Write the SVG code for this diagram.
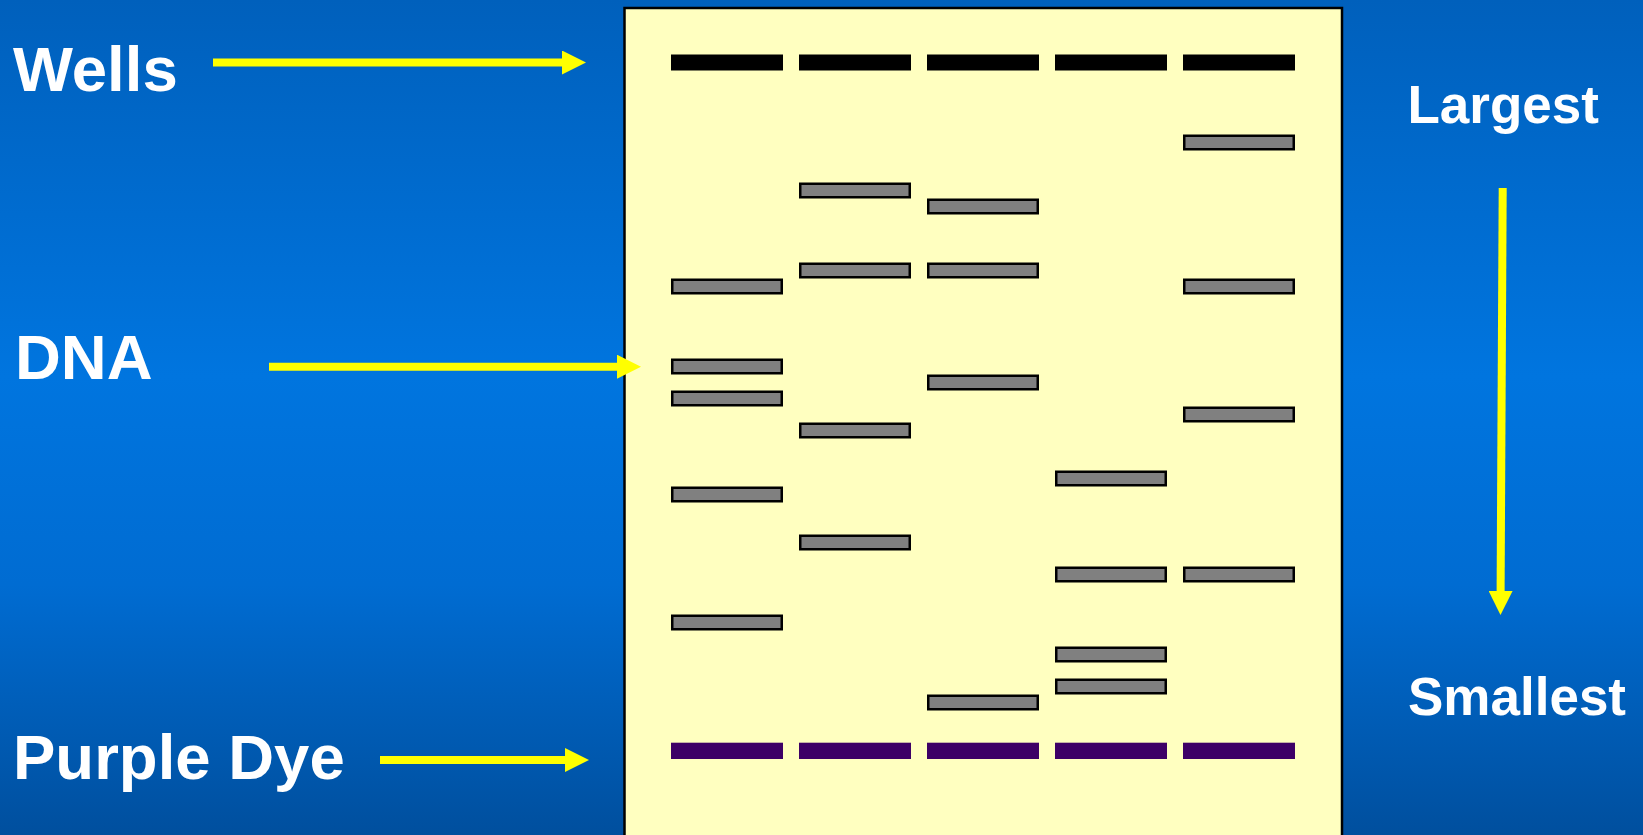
<svg xmlns="http://www.w3.org/2000/svg" width="1643" height="835" viewBox="0 0 1643 835">
  <defs>
    <linearGradient id="bg" x1="0" y1="0" x2="0" y2="1">
      <stop offset="0" stop-color="#0060BC"/>
      <stop offset="0.45" stop-color="#0075DF"/>
      <stop offset="0.7" stop-color="#006CD2"/>
      <stop offset="1" stop-color="#004F9E"/>
    </linearGradient>
    <marker id="head" markerUnits="userSpaceOnUse" markerWidth="25" markerHeight="24" refX="0" refY="12" orient="auto">
      <path d="M0,0 L24,12 L0,24 z" fill="#FFFF00"/>
    </marker>
    <style>
      .lbl { font-family: "Liberation Sans", Arial, sans-serif; font-weight: bold; fill: #FFFFFF; }
      .big { font-size: 63.5px; }
      .side { font-size: 53px; }
      .arrow { stroke: #FFFF00; stroke-width: 8; fill: none; marker-end: url(#head); }
      .well { fill: #000000; }
      .band { fill: #808080; stroke: #000000; stroke-width: 2.5; }
      .dye { fill: #3D0066; }
      .gel { fill: #FFFFC0; stroke: #000000; stroke-width: 2.5; }
    </style>
  </defs>

  <rect x="0" y="0" width="1643" height="835" fill="url(#bg)"/>

  <g id="gel">
    <rect class="gel" x="624.5" y="8" width="717.5" height="840"/>
  </g>

  <g id="wells">
    <rect class="well" x="671" y="54.5" width="112" height="16"/>
    <rect class="well" x="799" y="54.5" width="112" height="16"/>
    <rect class="well" x="927" y="54.5" width="112" height="16"/>
    <rect class="well" x="1055" y="54.5" width="112" height="16"/>
    <rect class="well" x="1183" y="54.5" width="112" height="16"/>
  </g>

  <g id="lane1">
    <rect class="band" x="672.25" y="279.75" width="109.5" height="13.5"/>
    <rect class="band" x="672.25" y="359.75" width="109.5" height="13.5"/>
    <rect class="band" x="672.25" y="391.75" width="109.5" height="13.5"/>
    <rect class="band" x="672.25" y="487.75" width="109.5" height="13.5"/>
    <rect class="band" x="672.25" y="615.75" width="109.5" height="13.5"/>
  </g>
  <g id="lane2">
    <rect class="band" x="800.25" y="183.75" width="109.5" height="13.5"/>
    <rect class="band" x="800.25" y="263.75" width="109.5" height="13.5"/>
    <rect class="band" x="800.25" y="423.75" width="109.5" height="13.5"/>
    <rect class="band" x="800.25" y="535.75" width="109.5" height="13.5"/>
  </g>
  <g id="lane3">
    <rect class="band" x="928.25" y="199.75" width="109.5" height="13.5"/>
    <rect class="band" x="928.25" y="263.75" width="109.5" height="13.5"/>
    <rect class="band" x="928.25" y="375.75" width="109.5" height="13.5"/>
    <rect class="band" x="928.25" y="695.75" width="109.5" height="13.5"/>
  </g>
  <g id="lane4">
    <rect class="band" x="1056.25" y="471.75" width="109.5" height="13.5"/>
    <rect class="band" x="1056.25" y="567.75" width="109.5" height="13.5"/>
    <rect class="band" x="1056.25" y="647.75" width="109.5" height="13.5"/>
    <rect class="band" x="1056.25" y="679.75" width="109.5" height="13.5"/>
  </g>
  <g id="lane5">
    <rect class="band" x="1184.25" y="135.75" width="109.5" height="13.5"/>
    <rect class="band" x="1184.25" y="279.75" width="109.5" height="13.5"/>
    <rect class="band" x="1184.25" y="407.75" width="109.5" height="13.5"/>
    <rect class="band" x="1184.25" y="567.75" width="109.5" height="13.5"/>
  </g>

  <g id="dye">
    <rect class="dye" x="671" y="742.7" width="112" height="16.3"/>
    <rect class="dye" x="799" y="742.7" width="112" height="16.3"/>
    <rect class="dye" x="927" y="742.7" width="112" height="16.3"/>
    <rect class="dye" x="1055" y="742.7" width="112" height="16.3"/>
    <rect class="dye" x="1183" y="742.7" width="112" height="16.3"/>
  </g>

  <g id="label-wells"><text class="lbl big" x="13" y="91">Wells</text></g>
  <g id="label-dna"><text class="lbl big" x="15" y="379">DNA</text></g>
  <g id="label-dye"><text class="lbl big" x="13" y="779">Purple Dye</text></g>
  <g id="label-largest"><text class="lbl side" x="1407.5" y="123">Largest</text></g>
  <g id="label-smallest"><text class="lbl side" x="1408" y="715">Smallest</text></g>

  <g id="connectors">
    <line class="arrow" x1="213" y1="62.5" x2="562" y2="62.5"/>
    <line class="arrow" x1="269" y1="366.7" x2="617" y2="366.7"/>
    <line class="arrow" x1="380" y1="760" x2="565" y2="760"/>
    <line class="arrow" x1="1502.7" y1="188" x2="1500.6" y2="591"/>
  </g>
</svg>
